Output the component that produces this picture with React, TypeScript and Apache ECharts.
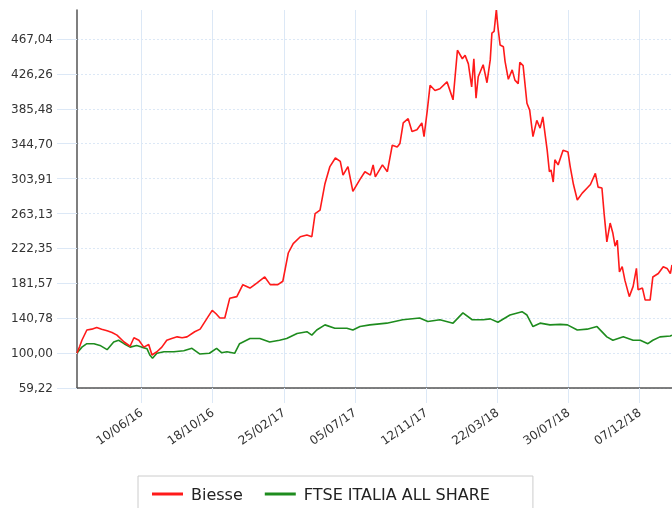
import React, { useEffect, useRef } from 'react';
import * as echarts from 'echarts';

const seriesNames = ['Biesse', 'FTSE ITALIA ALL SHARE'];

const biesseDates = [
  '2016-02-13','2016-02-18','2016-02-22','2016-03-02','2016-03-11','2016-03-20','2016-03-29','2016-04-08','2016-04-17','2016-04-26',
  '2016-05-09','2016-05-20','2016-05-27','2016-06-05','2016-06-14','2016-06-23','2016-06-29','2016-07-08','2016-07-17','2016-07-26',
  '2016-08-04','2016-08-14','2016-08-23','2016-09-01','2016-09-15','2016-09-25','2016-10-02','2016-10-09','2016-10-17','2016-10-24',
  '2016-10-31','2016-11-09','2016-11-18','2016-12-01','2016-12-12','2016-12-25','2017-01-07','2017-01-21','2017-01-31','2017-02-14',
  '2017-02-23','2017-03-05','2017-03-14','2017-03-27','2017-04-08','2017-04-17','2017-04-23','2017-05-02','2017-05-11','2017-05-20',
  '2017-05-30','2017-06-08','2017-06-13','2017-06-22','2017-07-01','2017-07-14','2017-07-23','2017-08-02','2017-08-07','2017-08-11',
  '2017-08-24','2017-09-02','2017-09-11','2017-09-20','2017-09-25','2017-10-01','2017-10-10','2017-10-17','2017-10-26','2017-11-04',
  '2017-11-08','2017-11-14','2017-11-19','2017-11-28','2017-12-07','2017-12-20','2017-12-31','2018-01-08','2018-01-17','2018-01-22',
  '2018-01-28','2018-02-03','2018-02-07','2018-02-11','2018-02-15','2018-02-24','2018-03-03','2018-03-09','2018-03-12','2018-03-16',
  '2018-03-20','2018-03-23','2018-03-27','2018-04-02','2018-04-05','2018-04-11','2018-04-18','2018-04-23','2018-04-29','2018-05-02',
  '2018-05-08','2018-05-15','2018-05-20','2018-05-26','2018-06-02','2018-06-08','2018-06-13','2018-06-21','2018-06-25','2018-06-28',
  '2018-07-02','2018-07-05','2018-07-11','2018-07-20','2018-07-29','2018-08-02','2018-08-08','2018-08-15','2018-08-24','2018-09-02',
  '2018-09-08','2018-09-17','2018-09-22','2018-09-29','2018-10-03','2018-10-08','2018-10-14','2018-10-19','2018-10-23','2018-10-27',
  '2018-10-31','2018-11-05','2018-11-10','2018-11-18','2018-11-25','2018-12-01','2018-12-04','2018-12-12','2018-12-17','2018-12-26',
  '2018-12-31','2019-01-10','2019-01-19','2019-01-26','2019-02-01','2019-02-04'
];
const biesseValues = [
  100,108,115,127,128,130,128,126,124,121,
  113,108,118,115,107,110,97.8,101.6,107,115,
  117,119,118,119,125,128,135,142,150,146,
  141,141,164,166,180,176,182,189,180,180,
  184,217,228,236,238,236,263,267,298,318,
  328,324,308,318,289,303,312,308,320,306,
  320,312,343,341,345,369,374,359,361,369,
  353,384,413,407,409,417,396,454,444,448,
  438,411,444,398,423,437,416,443,474,476,
  500.9,481,460,458,441,420,431,419,415,440,
  436,392,384,353,372,363,376,337,312,314,
  300,326,320,337,335,318,297,279,287,293,
  297,310,294,293,263,230,252,240,225,232,
  195,201,185,166,178,199,174,176,162,162,
  189,193,201,199,193,203
];

const ftseDates = [
  '2016-02-13','2016-02-22','2016-03-02','2016-03-15','2016-03-26','2016-04-08','2016-04-20','2016-04-29','2016-05-09','2016-05-20',
  '2016-06-01','2016-06-10','2016-06-20','2016-06-25','2016-06-30','2016-07-08','2016-07-21','2016-08-08','2016-08-26','2016-09-10',
  '2016-09-24','2016-10-12','2016-10-25','2016-11-03','2016-11-13','2016-11-27','2016-12-06','2016-12-25','2017-01-12','2017-01-30',
  '2017-02-17','2017-03-02','2017-03-21','2017-04-08','2017-04-17','2017-04-26','2017-05-11','2017-05-29','2017-06-20','2017-07-01',
  '2017-07-14','2017-08-01','2017-09-01','2017-09-30','2017-10-31','2017-11-15','2017-12-07','2017-12-31','2018-01-18','2018-02-04',
  '2018-02-24','2018-03-09','2018-03-23','2018-04-14','2018-05-06','2018-05-15','2018-05-26','2018-06-08','2018-06-26','2018-07-15',
  '2018-07-28','2018-08-15','2018-09-02','2018-09-20','2018-10-08','2018-10-19','2018-11-07','2018-11-25','2018-12-08','2018-12-22',
  '2018-12-31','2019-01-13','2019-02-01','2019-02-04'
];
const ftseValues = [
  100,107,111,111,109,104,113,115,111,107,
  109,107,105,97.8,93.9,99.8,101.6,101.6,102.8,105.6,
  99,99.8,105.6,100.5,101.6,99.8,111,117,117,113,
  115,117,123,125,121,127,133,129,129,127,
  131,133,135,139,141,137,139,135,147,139,
  139,140,136,144.5,148.4,144.5,131,135,133,133.6,
  133,127,128,131,119,115,119,115,115,111,
  115,119,120,121
];

const yTickLabels = ['59,22','100,00','140,78','181,57','222,35','263,13','303,91','344,70','385,48','426,26','467,04'];
const xTickLabels = ['10/06/16','18/10/16','25/02/17','05/07/17','12/11/17','22/03/18','30/07/18','07/12/18'];

const parseIso = (s: string) => { const [y, m, d] = s.split('-').map(Number); return new Date(y, m - 1, d).getTime(); };
const parseDmy = (s: string) => { const [d, m, y] = s.split('/').map(Number); return new Date(2000 + y, m - 1, d).getTime(); };
const pad = (n: number) => String(n).padStart(2, '0');
const fmtDmy = (v: number) => { const dt = new Date(v); return pad(dt.getDate()) + '/' + pad(dt.getMonth() + 1) + '/' + pad(dt.getFullYear() % 100); };

const FONT = 'DejaVu Sans';
const GRID_BLUE = '#dce8f6';

export default function App() {
  const ref = useRef<HTMLDivElement>(null);
  useEffect(() => {
    if (!ref.current) return;
    const chart = echarts.init(ref.current, undefined, { renderer: 'svg' });
    const yTicks = yTickLabels.map(s => parseFloat(s.replace(',', '.')));
    const xTicks = xTickLabels.map(parseDmy);
    const xMin = parseIso(biesseDates[0]);
    const xMax = parseIso(biesseDates[biesseDates.length - 1]);
    chart.setOption({
      animation: false,
      grid: { left: 77, top: 10, right: 0, bottom: 120, containLabel: false },
      legend: {
        left: 138,
        top: 476,
        padding: [10, 43, 10, 14],
        borderColor: '#cccccc',
        borderWidth: 1,
        icon: 'rect',
        itemWidth: 31,
        itemHeight: 3,
        itemGap: 22,
        textStyle: { fontFamily: FONT, fontSize: 16, color: '#222', padding: [0, 0, 0, 3] },
        data: seriesNames,
      },
      xAxis: {
        type: 'value',
        min: xMin,
        max: xMax,
        axisLine: { show: true, lineStyle: { color: '#555', width: 1.5 } },
        axisTick: { show: true, customValues: xTicks, length: 15, lineStyle: { color: GRID_BLUE, width: 1 } },
        axisLabel: {
          customValues: xTicks,
          rotate: 35,
          margin: 23,
          fontFamily: FONT,
          fontSize: 12,
          color: '#333',
          formatter: (v: number) => fmtDmy(v),
        },
        splitLine: { show: true, lineStyle: { color: GRID_BLUE, width: 1, type: 'solid' } },
      },
      yAxis: {
        type: 'value',
        min: yTicks[0],
        max: 501,
        axisLine: { show: true, lineStyle: { color: '#555', width: 1.5 } },
        axisTick: { show: true, customValues: yTicks, length: 20, lineStyle: { color: GRID_BLUE, width: 1 } },
        axisLabel: {
          customValues: yTicks,
          margin: 24,
          fontFamily: FONT,
          fontSize: 12,
          color: '#333',
          formatter: (v: number) => v.toFixed(2).replace('.', ','),
        },
        splitLine: { show: true, lineStyle: { color: GRID_BLUE, width: 1, type: [2, 2] } },
      },
      series: [
        {
          name: seriesNames[0],
          type: 'line',
          symbol: 'none',
          data: biesseDates.map((d, i) => [parseIso(d), biesseValues[i]]),
          lineStyle: { color: '#ff1a1a', width: 1.6 },
          itemStyle: { color: '#ff1a1a' },
          z: 3,
        },
        {
          name: seriesNames[1],
          type: 'line',
          symbol: 'none',
          data: ftseDates.map((d, i) => [parseIso(d), ftseValues[i]]),
          lineStyle: { color: '#1e8c1e', width: 1.6 },
          itemStyle: { color: '#1e8c1e' },
          z: 2,
        },
      ],
    });
    return () => chart.dispose();
  }, []);
  return <div ref={ref} style={{ position: 'fixed', left: 0, top: 0, width: 672, height: 508 }} />;
}
